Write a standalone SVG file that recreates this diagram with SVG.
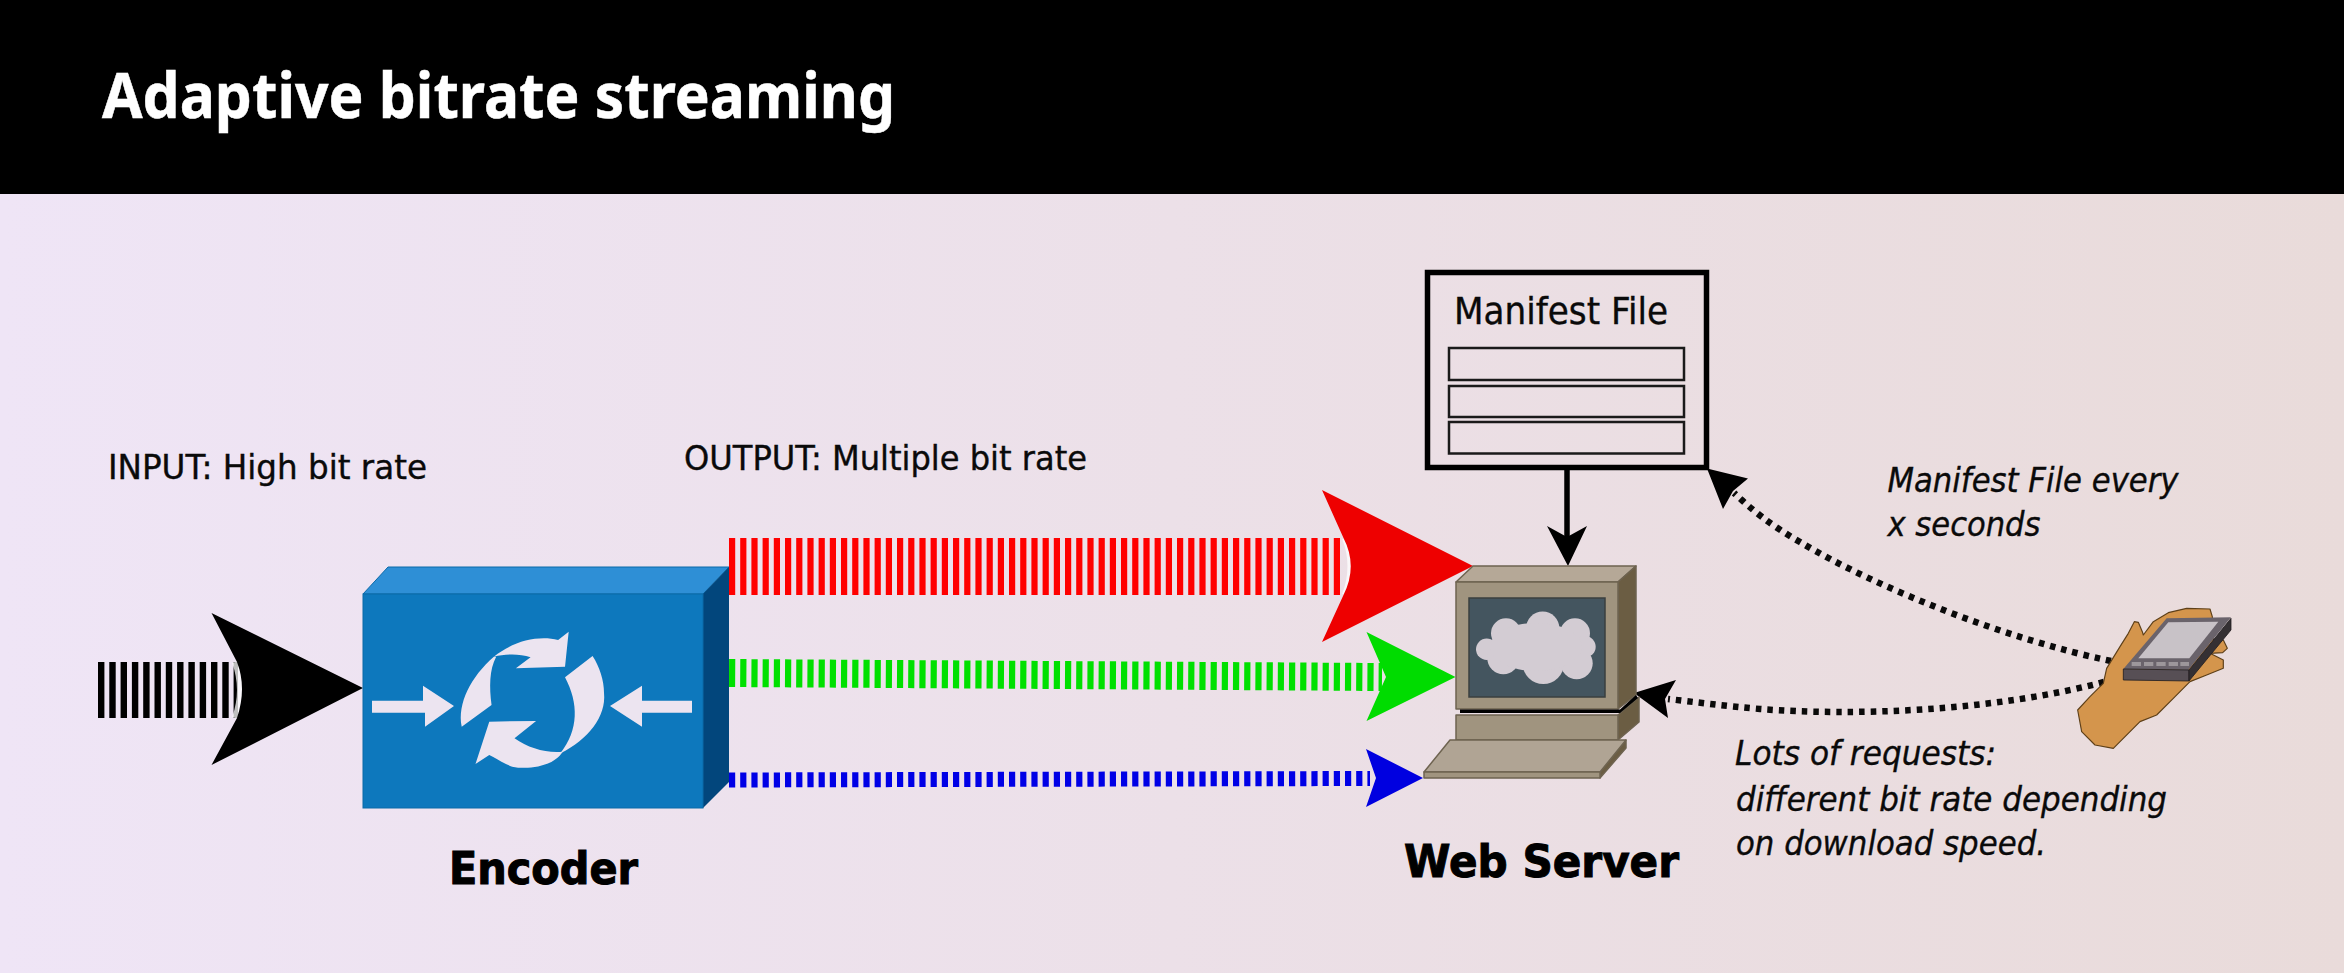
<svg xmlns="http://www.w3.org/2000/svg" width="2344" height="973" viewBox="0 0 2344 973">
<style>
.t{font-family:"DejaVu Sans Condensed","DejaVu Sans",sans-serif;fill:#0a0a0a;stroke:#0a0a0a;stroke-width:.35}
.lbl{font-size:34px}
.it{font-size:34px;font-style:italic}
.b{font-size:44px;font-weight:700;fill:#000;stroke:#000;stroke-width:1}
.dot{fill:none;stroke:#0a0a0a;stroke-width:6.500;stroke-dasharray:5.500 6}
.e{stroke:#0b6aa8;stroke-width:1}
.c{stroke:#6e6350;stroke-width:1.500;stroke-linejoin:round}
.halo{fill:none;stroke:#fff;stroke-opacity:.75;stroke-width:6}
</style>
<defs>
<linearGradient id="bg" x1="0" y1="0" x2="1" y2="0">
<stop offset="0" stop-color="#efe5f6"/><stop offset="1" stop-color="#e9dbda"/>
</linearGradient>
</defs>
<rect width="2344" height="973" fill="url(#bg)"/>
<g id="header">
<rect width="2344" height="194" fill="#000"/>
<text x="102" y="118" font-family="'Noto Sans',sans-serif" font-weight="700" font-size="62" fill="#fff" stroke="#fff" stroke-width=".5" textLength="793" lengthAdjust="spacingAndGlyphs">Adaptive bitrate streaming</text>
</g>
<g id="connectors">
<g id="input-arrow">
<line x1="98" y1="690" x2="238" y2="690" stroke="#000" stroke-width="56" stroke-dasharray="6.400 4.900"/>
<path class="halo" d="M235 662Q245 690 235 718"/>
<path d="M211.500 613L237 662Q247 688 237 718L211.500 765L363 688Z" fill="#000"/>
</g>
<g id="red-arrow">
<line x1="729" y1="566.500" x2="1343" y2="566.500" stroke="#f00" stroke-width="57" stroke-dasharray="6.200 5"/>
<path class="halo" d="M1345 538Q1356 566 1345 595"/>
<path d="M1322 490L1343.500 538Q1358 566 1343.500 595L1322 642L1473 566Z" fill="#ee0000"/>
</g>
<g id="green-arrow">
<line x1="729" y1="673" x2="1382" y2="677" stroke="#00e000" stroke-width="28" stroke-dasharray="6.200 5"/>
<path d="M1366.500 632L1386 677L1366.500 721L1455.500 677Z" fill="#00dc00"/>
</g>
<g id="blue-arrow">
<line x1="729" y1="780" x2="1370" y2="778.500" stroke="#0000e6" stroke-width="15" stroke-dasharray="6.200 5"/>
<path d="M1366 749L1376 778L1366 807L1423 778Z" fill="#0000e0"/>
</g>
<g id="manifest-to-server">
<line x1="1567" y1="470" x2="1567" y2="540" stroke="#000" stroke-width="5.500"/>
<path d="M1547 526L1567 537L1587 526L1568 566Z" fill="#000"/>
</g>
<g id="phone-to-manifest">
<path class="dot" d="M2111 661C2010 640 1880 590 1800 542C1770 525 1750 508 1734 493"/>
<path d="M1707 468.500L1748 478.600L1733 491L1723 509Z" fill="#000"/>
</g>
<g id="phone-to-server">
<path class="dot" d="M2104 682C1990 712 1850 716 1760 709C1725 706 1695 702 1668 699"/>
<path d="M1634 693L1676 680L1665 699L1668 718Z" fill="#000"/>
</g>
</g>
<g id="encoder">
<path class="e" d="M363 594L388 567H729L703 594Z" fill="#2e8fd6"/>
<path d="M703 594L729 567V782L703 808Z" fill="#02467c"/>
<rect class="e" x="363" y="594" width="340" height="214" fill="#0d78bd"/>
<g fill="#ece4f0">
<path d="M372 700.700H423V685.700L454 706L425 726.700V712.700H372Z"/>
<path d="M692 700.700H642V685.700L610 706L642 726.700V712.700H692Z"/>
<g transform="translate(60 420) scale(.4591 .3333)">
<path d="M945 710C985 665 1040 645 1085 660L1108 635L1100 740L993 745L1025 712C1000 700 970 702 945 710Z"/>
<path d="M945 710C895 770 865 850 875 920L940 855C935 800 935 750 950 710Z"/>
<path d="M905 1032L935 905L1037 903L990 955C1020 985 1060 1000 1095 995C1075 1040 1020 1050 985 1040C965 1030 950 1015 935 1005Z"/>
<path d="M1160 708L1100 772C1130 850 1130 930 1090 1000C1150 960 1190 890 1185 820C1185 780 1175 740 1160 708Z"/>
</g>
</g>
<text class="t b" x="449" y="884" textLength="189" lengthAdjust="spacingAndGlyphs">Encoder</text>
</g>
<g id="manifest-file">
<rect x="1427.500" y="272.500" width="279" height="195" fill="none" stroke="#000" stroke-width="5.500"/>
<g fill="none" stroke="#1a1a1a" stroke-width="2.500">
<rect x="1449" y="348" width="235" height="32"/>
<rect x="1449" y="386" width="235" height="31"/>
<rect x="1449" y="422" width="235" height="31.500"/>
</g>
<text class="t" x="1454" y="324" font-size="38" textLength="214" lengthAdjust="spacingAndGlyphs">Manifest File</text>
</g>
<g id="web-server">
<path class="c" d="M1456 582L1473 566H1636L1618 582Z" fill="#b5a897"/>
<path class="c" d="M1618 582L1636 566V695L1618 709Z" fill="#6b5d43"/>
<rect class="c" x="1456" y="582" width="162" height="127" fill="#a0947f"/>
<rect x="1469" y="598" width="136" height="99" fill="#44555f" stroke="#3a3f3f" stroke-width="1.500"/>
<g fill="#d3ccd3">
<circle cx="1486.700" cy="649.300" r="10.700"/><circle cx="1506" cy="633.300" r="15"/><circle cx="1542.700" cy="628.300" r="16.700"/><circle cx="1575" cy="633.300" r="15"/><circle cx="1585" cy="646.700" r="10.700"/><circle cx="1503.300" cy="658.300" r="16"/><circle cx="1543.300" cy="663.300" r="20.700"/><circle cx="1576.700" cy="663.300" r="16"/><ellipse cx="1536" cy="647" rx="46" ry="24"/>
</g>
<path class="c" d="M1618 715L1639 697V722L1618 740Z" fill="#6b5d43"/>
<path d="M1460 709.500H1620L1636 695L1638 698L1620 713H1460Z" fill="#000"/>
<rect class="c" x="1456" y="715" width="162" height="25" fill="#a0947f"/>
<path class="c" d="M1600 772L1626 740V748L1600 778Z" fill="#6b5d43"/>
<path class="c" d="M1450 740H1626L1600 772H1424Z" fill="#b0a494"/>
<rect class="c" x="1424" y="772" width="176" height="6" fill="#a0947f"/>
<text class="b" x="1404" y="877" font-size="44" font-family="'DejaVu Sans',sans-serif" textLength="275" lengthAdjust="spacingAndGlyphs">Web Server</text>
</g>
<g id="handheld" transform="translate(2040 590) scale(.3333)">
<path d="M113 360L150 320L190 280L200 235L240 170L265 130L283 95L295 97L307 125L310 135L340 95L385 68L440 55L510 57L517 80L520 150L550 150L562 175L548 188L510 190L550 210L550 235L500 255L450 275L400 325L350 375L300 395L220 475L165 465L125 425Z" fill="#d4954c" stroke="#5e4019" stroke-width="3.500" stroke-linejoin="round"/>
<path d="M250 237L380 85L573 82L445 240Z" fill="#6a636b"/>
<path d="M295 205L385 97L535 95L448 205Z" fill="#c8c2c7"/>
<path d="M250 237L447 240V273L250 270Z" fill="#574f55" stroke="#221e20" stroke-width="2.500"/>
<path d="M447 240L573 85V120L447 273Z" fill="#353033" stroke="#221e20" stroke-width="2.500"/>
<g fill="#9d979b">
<rect x="275" y="216" width="28" height="12"/><rect x="312" y="216" width="28" height="12"/><rect x="349" y="216" width="28" height="12"/><rect x="386" y="216" width="28" height="12"/><rect x="421" y="216" width="26" height="12"/>
</g>
</g>
<g id="labels">
<text class="t lbl" x="108" y="479" textLength="319" lengthAdjust="spacingAndGlyphs">INPUT: High bit rate</text>
<text class="t lbl" x="684" y="470" textLength="403" lengthAdjust="spacingAndGlyphs">OUTPUT: Multiple bit rate</text>
<text class="t it" x="1887.500" y="492" textLength="291" lengthAdjust="spacingAndGlyphs">Manifest File every</text>
<text class="t it" x="1887.500" y="536" textLength="153" lengthAdjust="spacingAndGlyphs">x seconds</text>
<text class="t it" x="1735" y="765" textLength="261" lengthAdjust="spacingAndGlyphs">Lots of requests:</text>
<text class="t it" x="1736" y="811" textLength="431" lengthAdjust="spacingAndGlyphs">different bit rate depending</text>
<text class="t it" x="1736" y="855" textLength="310" lengthAdjust="spacingAndGlyphs">on download speed.</text>
</g>
</svg>
